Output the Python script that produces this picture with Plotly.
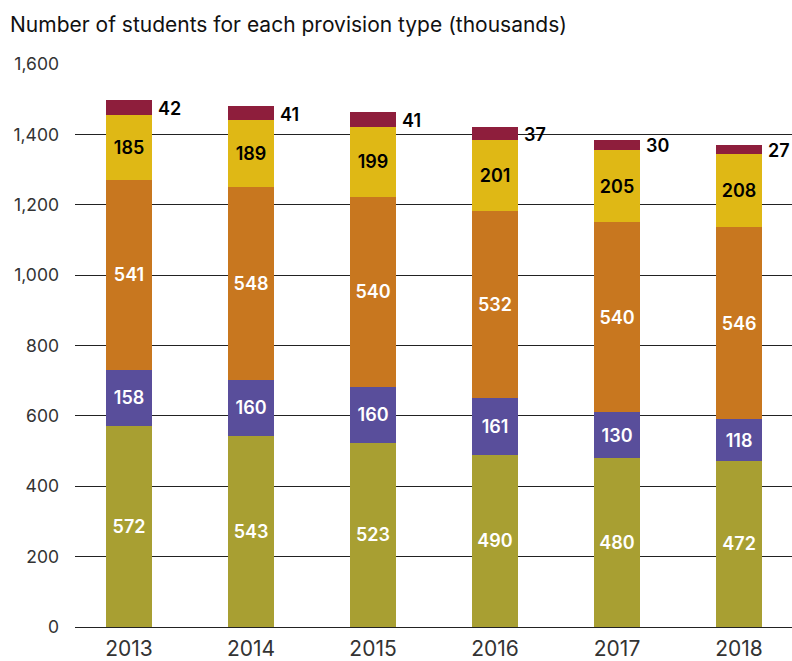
import plotly.graph_objects as go

years = ["2013", "2014", "2015", "2016", "2017", "2018"]
olive = [572, 543, 523, 490, 480, 472]
purple = [158, 160, 160, 161, 130, 118]
orange = [541, 548, 540, 532, 540, 546]
yellow = [185, 189, 199, 201, 205, 208]
maroon = [42, 41, 41, 37, 30, 27]
y_ticks = [0, 200, 400, 600, 800, 1000, 1200, 1400, 1600]

FONT = "Inter"
VAL_FONT = dict(family="Inter", size=18, weight=600)
series = [
    (olive, "#A89F32", "white"),
    (purple, "#594E9B", "white"),
    (orange, "#C8771F", "white"),
    (yellow, "#DFB815", "black"),
]

fig = go.Figure()
for vals, col, tcol in series:
    fig.add_trace(go.Bar(
        x=years, y=vals, marker=dict(color=col, line=dict(width=0)),
        text=[str(v) for v in vals], textposition="inside",
        insidetextanchor="middle", textangle=0,
        insidetextfont=dict(color=tcol, **VAL_FONT),
        width=0.377, hoverinfo="skip", showlegend=False,
    ))
fig.add_trace(go.Bar(
    x=years, y=maroon, marker=dict(color="#8E1E3C", line=dict(width=0)),
    width=0.377, hoverinfo="skip", showlegend=False,
))

for i in range(len(years)):
    base = olive[i] + purple[i] + orange[i] + yellow[i]
    fig.add_annotation(
        x=i, y=base + maroon[i] / 2, xref="x", yref="y",
        text=str(maroon[i]), showarrow=False, xanchor="left",
        xshift=27, yshift=-1, font=dict(color="black", **VAL_FONT),
    )

fig.update_layout(
    barmode="stack",
    width=792, height=661,
    margin=dict(l=75, r=0, t=64, b=34),
    paper_bgcolor="white", plot_bgcolor="white",
    font=dict(family=FONT, color="#333333"),
    title=dict(
        text="Number of students for each provision type (thousands)",
        x=10 / 792, xanchor="left", xref="container",
        y=1 - 25 / 661, yanchor="middle", yref="container",
        font=dict(size=21, color="#111111", family=FONT),
    ),
    xaxis=dict(
        type="category",
        range=[-0.443, 5.434], showgrid=False, zeroline=False,
        showline=False, ticks="", tickfont=dict(size=21, color="#333333"),
        ticklabelstandoff=7,
    ),
    yaxis=dict(
        range=[0, 1600], tickvals=y_ticks,
        ticktext=[f"{v:,}" for v in y_ticks],
        showgrid=True, gridcolor="#222222", gridwidth=1.2,
        zeroline=True, zerolinecolor="#222222", zerolinewidth=1.2,
        showline=False, ticks="", tickfont=dict(size=17.5, color="#333333"),
        ticklabelstandoff=15, layer="below traces",
    ),
    uniformtext=dict(minsize=17, mode="show"),
)

fig.write_html("out.html")
